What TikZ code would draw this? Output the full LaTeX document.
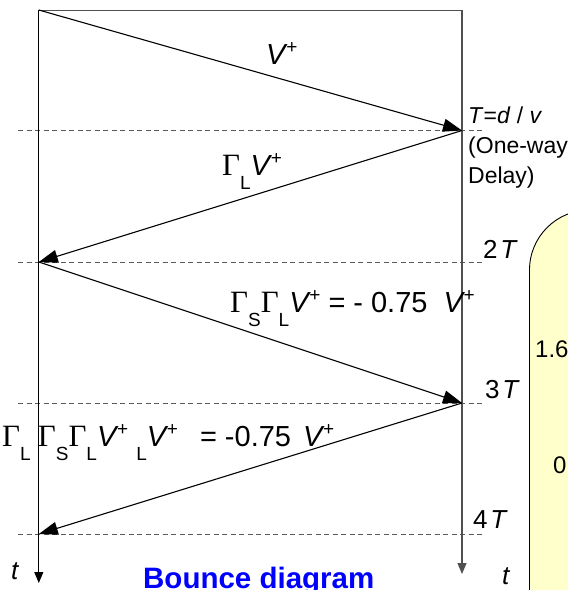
\documentclass[tikz,border=0pt]{standalone}
\usepackage{fontspec}
\setmainfont{Liberation Sans}
\newfontfamily\gserif{Liberation Serif}
\usetikzlibrary{arrows.meta}
\definecolor{boxyellow}{RGB}{255,255,204}
\definecolor{axisgray}{RGB}{80,80,80}
\definecolor{dashgray}{RGB}{90,90,90}
\definecolor{titleblue}{RGB}{0,0,255}
\newcommand\Gm{{\gserif\fontsize{31}{34}\selectfont Γ}}
\newcommand\lo[1]{\raisebox{-0.5em}{\fontsize{19}{19}\selectfont #1}}
\newcommand\Vp{\textit{V}\kern-0.05em\raisebox{0.36em}{\fontsize{19}{19}\selectfont +}}
\tikzset{
  bounce/.style={line width=1.1pt, -{Triangle[length=19pt,width=13pt]}},
  axisl/.style={line width=1.1pt, -{Triangle[length=11pt,width=9pt]}},
  dashl/.style={dashgray, line width=0.9pt, dash pattern=on 5pt off 3.5pt},
  biglab/.style={inner sep=0pt, anchor=base west, font=\fontsize{29}{34}\selectfont},
  midlab/.style={inner sep=0pt, anchor=base west, font=\fontsize{26}{30}\selectfont},
  smalllab/.style={inner sep=0pt, anchor=base west, font=\fontsize{23}{30}\selectfont},
}
\begin{document}
\begin{tikzpicture}[x=1pt,y=-1pt]
\useasboundingbox (0,0) rectangle (568,590);
\clip (0,0) rectangle (568,590);
% key coordinates
\coordinate (L0) at (38.8,10);
\coordinate (R0) at (462,10);
\coordinate (R1) at (462,130.5);
\coordinate (L2) at (38.8,262);
\coordinate (R3) at (462,403);
\coordinate (L4) at (38.8,534);
\coordinate (Lend) at (38.8,583);
\coordinate (Rend) at (462,574);
% yellow box
\draw[line width=0.9pt, fill=boxyellow, rounded corners=60pt] (529.5,650) -- (529.5,210) -- (640,210) -- (640,650) -- cycle;
% dashed time lines
\foreach \yy/\nm in {130.5/a,262/b,403/c,534/d}{
  \coordinate (D\nm1) at (18,\yy);
  \coordinate (D\nm2) at (482,\yy);
  \draw[dashl] (D\nm1) -- (D\nm2);
}
% frame and axes
\draw[axisgray, line width=1pt] (L0) -- (R0);
\draw[axisl] (L0) -- (Lend);
\draw[axisl, axisgray] (R0) -- (Rend);
% bounce lines
\draw[bounce] (L0) -- (R1);
\draw[bounce] (R1) -- (L2);
\draw[bounce] (L2) -- (R3);
\draw[bounce] (R3) -- (L4);
% labels
\node[biglab] (v1) at (266,64) {\Vp};
\node[biglab] (v2) at (222,175) {\Gm\lo{L}\Vp};
\node[biglab] (v3) at (230,312) {\Gm\lo{S}\Gm\lo{L}\Vp\hspace{8pt}=\hspace{8pt}-\hspace{8pt}0.75\hspace{16pt}\Vp};
\node[biglab] (v4) at (2,446) {\Gm\lo{L}\kern0.25em\Gm\lo{S}\Gm\lo{L}\Vp\hspace{8pt}\lo{L}\Vp\hspace{22pt}=\hspace{8pt}-0.75\hspace{12pt}\Vp};
\node[smalllab, align=left, anchor=north west] (tT) at (468,107) {\textit{T}=\textit{d} / \textit{v}\\(One-way\\Delay)};
\node[midlab] (t2) at (483,258) {2\kern0.1em\textit{T}};
\node[midlab] (t3) at (485,398) {3\kern0.1em\textit{T}};
\node[midlab] (t4) at (473,528) {4\kern0.1em\textit{T}};
\node[midlab] (tl) at (11,579) {\textit{t}};
\node[midlab] (tr) at (502,584) {\textit{t}};
\node[inner sep=0pt, anchor=base west, font=\fontsize{29.5}{34}\selectfont\bfseries, text=titleblue] (title) at (143,588) {Bounce diagram};
\node[smalllab, font=\fontsize{24}{30}\selectfont] (n16) at (535,357) {1.6};
\node[smalllab, font=\fontsize{24}{30}\selectfont] (n0) at (553,473) {0};
\end{tikzpicture}
\end{document}
